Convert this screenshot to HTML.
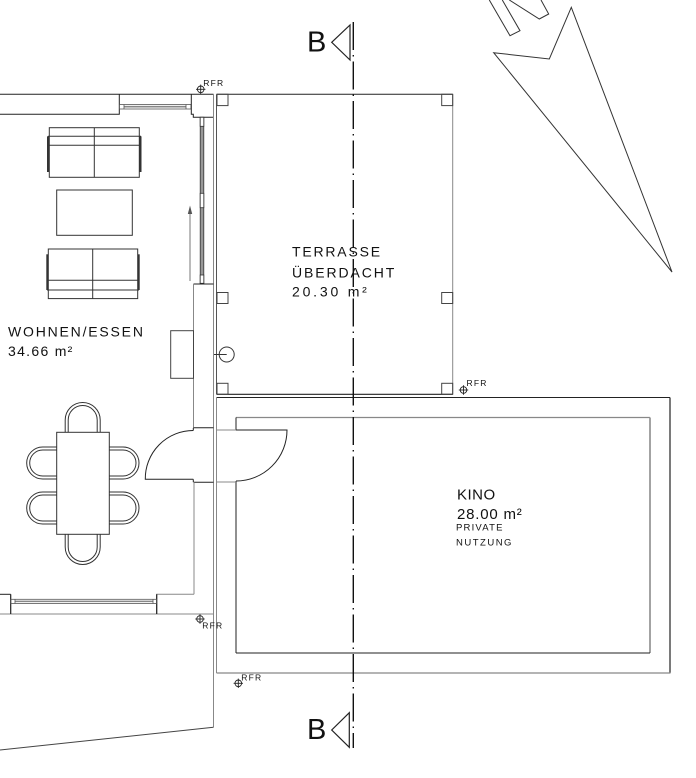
<!DOCTYPE html>
<html><head><meta charset="utf-8">
<style>
html,body{margin:0;padding:0;background:#fff;}
svg{display:block;}
text{font-family:"Liberation Sans",Arial,sans-serif;fill:#111;}
</style></head><body>
<svg width="696" height="778" viewBox="0 0 696 778" xmlns="http://www.w3.org/2000/svg">
<rect x="0" y="0" width="696" height="778" fill="#fff"/>
<g fill="none" stroke-linecap="butt" stroke-linejoin="miter">

<!-- North arrow + N -->
<polyline points="489.3,0 510,35.7 520,30.7 502.3,0" stroke="#333" stroke-width="1"/>
<polyline points="509.3,0 539.3,19 548.7,14 541,0" stroke="#333" stroke-width="1"/>
<polygon points="493.7,52.7 549.3,59 571.3,7.3 672,272" stroke="#333" stroke-width="1"/>

<!-- Top wall line -->
<line x1="0" y1="94.3" x2="213.5" y2="94.3" stroke="#222" stroke-width="1"/>
<!-- left wall block -->
<polyline points="0,114.3 119.3,114.3 119.3,94.3" stroke="#222" stroke-width="1"/>
<!-- top window -->
<rect x="119.5" y="104.5" width="71.5" height="4.5" fill="#fff" stroke="#555" stroke-width="0.8"/>
<line x1="124" y1="106.7" x2="186" y2="106.7" stroke="#888" stroke-width="1.6"/>
<line x1="124" y1="104.5" x2="124" y2="109" stroke="#555" stroke-width="0.8"/>
<line x1="186" y1="104.5" x2="186" y2="109" stroke="#555" stroke-width="0.8"/>
<!-- corner block -->
<path d="M191.3,94.3 L191.3,114.3 L193.3,114.3 L193.3,117.3 L213.3,117.3" stroke="#222" stroke-width="1"/>

<!-- long vertical walls -->
<line x1="213.5" y1="94.3" x2="213.5" y2="727.3" stroke="#888" stroke-width="1"/>
<line x1="216.5" y1="94.3" x2="216.5" y2="394.3" stroke="#555" stroke-width="1"/>

<!-- vertical window in wall -->
<rect x="200.2" y="117.3" width="3.6" height="166" fill="#999" stroke="#333" stroke-width="0.8"/>
<rect x="200.2" y="117.3" width="3.6" height="9" fill="#fff" stroke="#333" stroke-width="0.8"/>
<rect x="200.2" y="193.3" width="3.6" height="14.4" fill="#fff" stroke="#333" stroke-width="0.8"/>
<rect x="200.2" y="275" width="3.6" height="8.3" fill="#fff" stroke="#333" stroke-width="0.8"/>

<!-- wall segment below window -->
<line x1="193.5" y1="284" x2="213.5" y2="284" stroke="#222" stroke-width="1"/>
<line x1="193.5" y1="284" x2="193.5" y2="428" stroke="#888" stroke-width="1"/>
<line x1="193.5" y1="427.8" x2="213.5" y2="427.8" stroke="#222" stroke-width="1"/>
<line x1="193.5" y1="482.2" x2="213.5" y2="482.2" stroke="#222" stroke-width="1"/>
<line x1="194" y1="482.2" x2="194" y2="594.3" stroke="#888" stroke-width="1"/>

<!-- TV cabinet -->
<rect x="170.7" y="330.7" width="22.8" height="47.6" stroke="#444" stroke-width="1"/>

<!-- left door -->
<path d="M193.3,430.5 A48,48 0 0 0 145.3,479.3 L193.3,479.3" stroke="#222" stroke-width="1"/>
<line x1="193.3" y1="428" x2="193.3" y2="430.5" stroke="#222" stroke-width="1"/>
<line x1="193.3" y1="479.3" x2="193.3" y2="482.2" stroke="#222" stroke-width="1"/>

<!-- bottom living wall -->
<line x1="0" y1="614" x2="213.5" y2="614" stroke="#888" stroke-width="1"/>
<polyline points="0,594.3 10.7,594.3" stroke="#222" stroke-width="1"/>
<line x1="10.7" y1="594.3" x2="10.7" y2="614" stroke="#222" stroke-width="1.2"/>
<polyline points="156.7,614 156.7,594.3 194,594.3" stroke="#888" stroke-width="1"/>
<line x1="156.7" y1="594.3" x2="156.7" y2="614" stroke="#222" stroke-width="1.2"/>
<rect x="11" y="599.3" width="145.4" height="4.2" fill="#fff" stroke="#555" stroke-width="0.8"/>
<line x1="15" y1="601.4" x2="153" y2="601.4" stroke="#888" stroke-width="1.5"/>
<line x1="15" y1="599.3" x2="15" y2="603.5" stroke="#555" stroke-width="0.8"/>
<line x1="153" y1="599.3" x2="153" y2="603.5" stroke="#555" stroke-width="0.8"/>

<!-- slanted bottom -->
<line x1="213.5" y1="727.3" x2="0" y2="750" stroke="#444" stroke-width="1"/>

<!-- Sofa 1 -->
<rect x="49.3" y="127.7" width="90" height="49.6" stroke="#333" stroke-width="1"/>
<line x1="48" y1="136.3" x2="141" y2="136.3" stroke="#333" stroke-width="1"/>
<line x1="49.3" y1="145.3" x2="139.3" y2="145.3" stroke="#333" stroke-width="1"/>
<line x1="94.3" y1="127.7" x2="94.3" y2="177.3" stroke="#333" stroke-width="1"/>
<line x1="48" y1="136.3" x2="48" y2="172" stroke="#333" stroke-width="2"/>
<line x1="140.5" y1="136.3" x2="140.5" y2="172" stroke="#333" stroke-width="2"/>

<!-- table -->
<rect x="56.7" y="190" width="75.6" height="45.3" stroke="#333" stroke-width="1"/>

<!-- Sofa 2 -->
<rect x="48.3" y="249" width="89.4" height="49.6" stroke="#333" stroke-width="1"/>
<line x1="48.3" y1="280.3" x2="137.7" y2="280.3" stroke="#333" stroke-width="1"/>
<line x1="47" y1="290" x2="139" y2="290" stroke="#333" stroke-width="1"/>
<line x1="92.7" y1="249" x2="92.7" y2="298.6" stroke="#333" stroke-width="1"/>
<line x1="47.3" y1="254.3" x2="47.3" y2="290" stroke="#333" stroke-width="2"/>
<line x1="138.7" y1="254.3" x2="138.7" y2="290" stroke="#333" stroke-width="2"/>

<!-- arrow in living room -->
<line x1="190" y1="281" x2="190" y2="212" stroke="#777" stroke-width="1"/>
<polygon points="190,205.5 187.8,214 192.2,214" fill="#555" stroke="none"/>

<!-- dining table -->
<rect x="56.7" y="432.3" width="52.6" height="102" stroke="#333" stroke-width="1"/>
<!-- top chair -->
<path d="M65.2,432.3 L65.2,420 A17.5,17.5 0 0 1 100.2,420 L100.2,432.3" stroke="#333" stroke-width="1"/>
<path d="M68.2,432.3 L68.2,420 A14.5,14.5 0 0 1 97.2,420 L97.2,432.3" stroke="#333" stroke-width="1"/>
<!-- bottom chair -->
<path d="M65.2,534.3 L65.2,547 A17.5,17.5 0 0 0 100.2,547 L100.2,534.3" stroke="#333" stroke-width="1"/>
<path d="M68.2,534.3 L68.2,547 A14.5,14.5 0 0 0 97.2,547 L97.2,534.3" stroke="#333" stroke-width="1"/>
<!-- left chairs -->
<path d="M56.7,447 L42.7,447 A16,16 0 0 0 42.7,479 L56.7,479" stroke="#333" stroke-width="1"/>
<path d="M56.7,450 L42.7,450 A13,13 0 0 0 42.7,476 L56.7,476" stroke="#333" stroke-width="1"/>
<path d="M56.7,492 L42.7,492 A16,16 0 0 0 42.7,524 L56.7,524" stroke="#333" stroke-width="1"/>
<path d="M56.7,495 L42.7,495 A13,13 0 0 0 42.7,521 L56.7,521" stroke="#333" stroke-width="1"/>
<!-- right chairs -->
<path d="M109.3,447 L123,447 A16,16 0 0 1 123,479 L109.3,479" stroke="#333" stroke-width="1"/>
<path d="M109.3,450 L123,450 A13,13 0 0 1 123,476 L109.3,476" stroke="#333" stroke-width="1"/>
<path d="M109.3,492 L123,492 A16,16 0 0 1 123,524 L109.3,524" stroke="#333" stroke-width="1"/>
<path d="M109.3,495 L123,495 A13,13 0 0 1 123,521 L109.3,521" stroke="#333" stroke-width="1"/>

<!-- Terrace -->
<line x1="216.5" y1="94.3" x2="452.7" y2="94.3" stroke="#222" stroke-width="1"/>
<line x1="452.7" y1="94.3" x2="452.7" y2="394.3" stroke="#888" stroke-width="1"/>
<line x1="216.5" y1="394.3" x2="452.7" y2="394.3" stroke="#222" stroke-width="1.2"/>
<rect x="217" y="94.3" width="11" height="11.3" stroke="#444" stroke-width="1"/>
<rect x="441.7" y="94.3" width="11" height="11.3" stroke="#444" stroke-width="1"/>
<rect x="217" y="292.5" width="11" height="11" stroke="#444" stroke-width="1"/>
<rect x="441.7" y="292.5" width="11" height="11" stroke="#444" stroke-width="1"/>
<rect x="217" y="383.3" width="11" height="11" stroke="#444" stroke-width="1"/>
<rect x="441.7" y="383.3" width="11" height="11" stroke="#444" stroke-width="1"/>
<circle cx="226.7" cy="354.5" r="7.5" stroke="#333" stroke-width="1"/>
<line x1="214" y1="354.5" x2="226.7" y2="354.5" stroke="#333" stroke-width="1"/>

<!-- Kino outer -->
<line x1="216.5" y1="397.5" x2="670" y2="397.5" stroke="#222" stroke-width="1"/>
<line x1="670" y1="397.5" x2="670" y2="673" stroke="#333" stroke-width="1.3"/>
<line x1="216.5" y1="673" x2="670.5" y2="673" stroke="#888" stroke-width="1.2"/>
<line x1="216.5" y1="397.5" x2="216.5" y2="673" stroke="#888" stroke-width="1"/>
<!-- Kino inner -->
<line x1="236" y1="417.5" x2="650" y2="417.5" stroke="#888" stroke-width="1.2"/>
<line x1="650" y1="417.5" x2="650" y2="653" stroke="#999" stroke-width="1.8"/>
<line x1="236" y1="653" x2="650" y2="653" stroke="#222" stroke-width="1"/>
<line x1="236" y1="417.5" x2="236" y2="430" stroke="#222" stroke-width="1"/>
<line x1="236" y1="481" x2="236" y2="653" stroke="#222" stroke-width="1"/>
<line x1="216.5" y1="430" x2="236" y2="430" stroke="#888" stroke-width="1"/>
<line x1="216.5" y1="482" x2="236" y2="482" stroke="#888" stroke-width="1"/>
<!-- right door -->
<path d="M236,430 L287,430 A51,51 0 0 1 236,481" stroke="#222" stroke-width="1"/>

<!-- Section line -->
<line x1="353.3" y1="22" x2="353.3" y2="748" stroke="#111" stroke-width="1.4" stroke-dasharray="28 5 1.5 5"/>
<!-- section markers -->
<polygon points="331.7,42.3 350,25 350,60" stroke="#222" stroke-width="1.2"/>
<polygon points="331.7,730 349.3,712.7 349.3,747.3" stroke="#222" stroke-width="1.2"/>

<!-- RFR crosshairs -->
<g stroke="#222" stroke-width="0.9">
<circle cx="200.7" cy="89.3" r="3.3"/>
<line x1="196" y1="89.3" x2="205.4" y2="89.3"/><line x1="200.7" y1="84.6" x2="200.7" y2="94"/>
<circle cx="463.5" cy="390" r="3.3"/>
<line x1="458.8" y1="390" x2="468.2" y2="390"/><line x1="463.5" y1="385.3" x2="463.5" y2="394.7"/>
<circle cx="200" cy="619" r="3.3"/>
<line x1="195.3" y1="619" x2="204.7" y2="619"/><line x1="200" y1="614.3" x2="200" y2="623.7"/>
<circle cx="238.3" cy="683.3" r="3.3"/>
<line x1="233.6" y1="683.3" x2="243" y2="683.3"/><line x1="238.3" y1="678.6" x2="238.3" y2="688"/>
</g>
</g>

<!-- Texts -->
<text x="307" y="51.7" font-size="29">B</text>
<text x="307" y="739" font-size="29">B</text>

<text x="203.3" y="86" font-size="8.5" letter-spacing="1.2">RFR</text>
<text x="466.5" y="386" font-size="8.5" letter-spacing="1.2">RFR</text>
<text x="202.3" y="628.3" font-size="8.5" letter-spacing="1.2">RFR</text>
<text x="241.3" y="680.7" font-size="8.5" letter-spacing="1.2">RFR</text>

<text x="8" y="336.6" font-size="14" letter-spacing="1.8">WOHNEN/ESSEN</text>
<text x="8" y="356" font-size="14" letter-spacing="1.3">34.66 m²</text>

<text x="292" y="256.6" font-size="14" letter-spacing="1.8">TERRASSE</text>
<text x="292" y="277.3" font-size="14" letter-spacing="1.9">ÜBERDACHT</text>
<text x="292" y="296.7" font-size="14" letter-spacing="2.8">20.30 m²</text>

<text x="457" y="499.3" font-size="15" letter-spacing="0.5">KINO</text>
<text x="457" y="519" font-size="15" letter-spacing="0.8">28.00 m²</text>
<text x="456" y="530.7" font-size="9.5" letter-spacing="1.2">PRIVATE</text>
<text x="456" y="545.7" font-size="9.5" letter-spacing="1.5">NUTZUNG</text>
</svg>
</body></html>
